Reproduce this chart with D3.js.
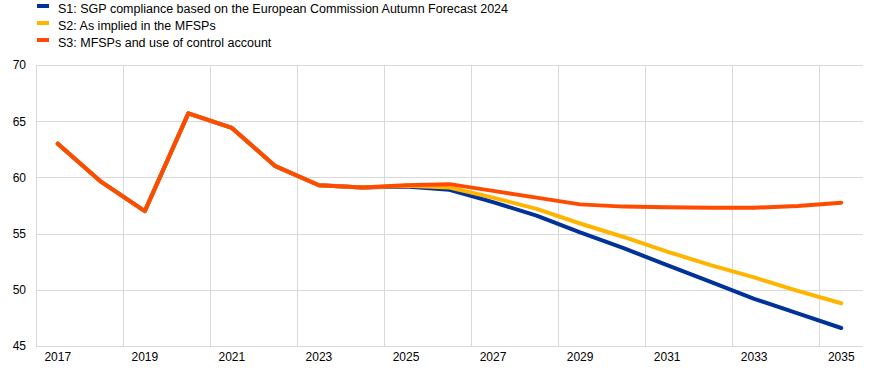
<!DOCTYPE html>
<html>
<head>
<meta charset="utf-8">
<script src="https://cdn.jsdelivr.net/npm/d3@7"></script>
<style>
  body { margin: 0; background: #fff; }
  svg text { font-family: "Liberation Sans", Arial, sans-serif; font-size: 12px; fill: #000; }
</style>
</head>
<body>
<svg width="875" height="373"></svg>
<script>
let years = [2017, 2018, 2019, 2020, 2021, 2022, 2023, 2024, 2025, 2026, 2027, 2028, 2029, 2030, 2031, 2032, 2033, 2034, 2035];
let s1 = [63.0, 59.6, 57.0, 65.7, 64.4, 61.0, 59.3, 59.1, 59.2, 58.9, 57.8, 56.6, 55.1, 53.7, 52.2, 50.7, 49.2, 47.9, 46.6];
let s2 = [63.0, 59.6, 57.0, 65.7, 64.4, 61.0, 59.3, 59.1, 59.25, 59.1, 58.2, 57.2, 55.9, 54.7, 53.4, 52.2, 51.1, 49.9, 48.8];
let s3 = [63.0, 59.6, 57.0, 65.7, 64.4, 61.0, 59.3, 59.1, 59.3, 59.4, 58.8, 58.2, 57.6, 57.4, 57.35, 57.3, 57.3, 57.45, 57.75];
let seriesNames = ["S1: SGP compliance based on the European Commission Autumn Forecast 2024",
	"S2: As implied in the MFSPs",
	"S3: MFSPs and use of control account"];
let colors = ["#003299", "#ffb400", "#ff4b00"];
let yTicks = [45, 50, 55, 60, 65, 70];
let xTickYears = [2017, 2019, 2021, 2023, 2025, 2027, 2029, 2031, 2033, 2035];

let svg = d3.select("svg");
let margin = {top: 65, right: 12, bottom: 27, left: 36};
let width = 875 - margin.left - margin.right;
let height = 373 - margin.top - margin.bottom;
let canvas = svg.append("g").attr("transform", "translate(" + margin.left + "," + margin.top + ")");

let xscale = d3.scaleBand().domain(years).range([0, width]).padding(0);
let yscale = d3.scaleLinear().domain([45, 70]).range([height, 0]);
let xc = function(y) { return xscale(y) + xscale.bandwidth() / 2; };

// horizontal grid
canvas.selectAll(".hgrid")
	.data(yTicks)
	.enter().append("line")
		.attr("class", "hgrid")
		.attr("x1", 0).attr("x2", width)
		.attr("y1", function(d) { return Math.round(yscale(d)) + 0.5; })
		.attr("y2", function(d) { return Math.round(yscale(d)) + 0.5; })
		.attr("stroke", "#d9d9d9");

// vertical grid between every second year
let vlines = [years[0]].concat(years.filter(function(d, i) { return i % 2 == 1; }));
canvas.selectAll(".vgrid")
	.data(vlines)
	.enter().append("line")
		.attr("class", "vgrid")
		.attr("y1", 0).attr("y2", height)
		.attr("x1", function(d) { return Math.round(xscale(d) + (d == years[0] ? 0 : xscale.bandwidth())) + 0.5; })
		.attr("x2", function(d) { return Math.round(xscale(d) + (d == years[0] ? 0 : xscale.bandwidth())) + 0.5; })
		.attr("stroke", "#d9d9d9");

// axes
let yaxis = d3.axisLeft(yscale).tickValues(yTicks).tickSize(0).tickPadding(10);
canvas.append("g").attr("class", "axis axis-y").call(yaxis)
	.call(function(g) { g.select(".domain").remove(); });
let xaxis = d3.axisBottom(xscale).tickValues(xTickYears).tickSize(0).tickPadding(6);
canvas.append("g").attr("class", "axis axis-x")
	.attr("transform", "translate(0," + height + ")")
	.call(xaxis)
	.call(function(g) { g.select(".domain").remove(); });
svg.selectAll(".axis text").style("font-size", "12px").attr("fill", "#000");

// lines
let line = d3.line()
	.x(function(d, i) { return xc(years[i]); })
	.y(function(d) { return yscale(d); });
let allSeries = [s1, s2, s3];
canvas.selectAll(".series")
	.data(allSeries)
	.enter().append("path")
		.attr("class", "series")
		.attr("d", line)
		.attr("fill", "none")
		.attr("stroke", function(d, i) { return colors[i]; })
		.attr("stroke-width", 4)
		.attr("stroke-linejoin", "round")
		.attr("stroke-linecap", "round");

// legend
let legend = svg.append("g").attr("class", "legend");
let items = legend.selectAll(".item")
	.data(seriesNames)
	.enter().append("g")
		.attr("class", "item")
		.attr("transform", function(d, i) { return "translate(37," + (4 + i * 17) + ")"; });
items.append("rect")
	.attr("width", 12).attr("height", 4)
	.attr("fill", function(d, i) { return colors[i]; });
items.append("text")
	.attr("x", 21).attr("y", 9)
	.style("font-size", "12.5px")
	.text(function(d) { return d; });
</script>
</body>
</html>
